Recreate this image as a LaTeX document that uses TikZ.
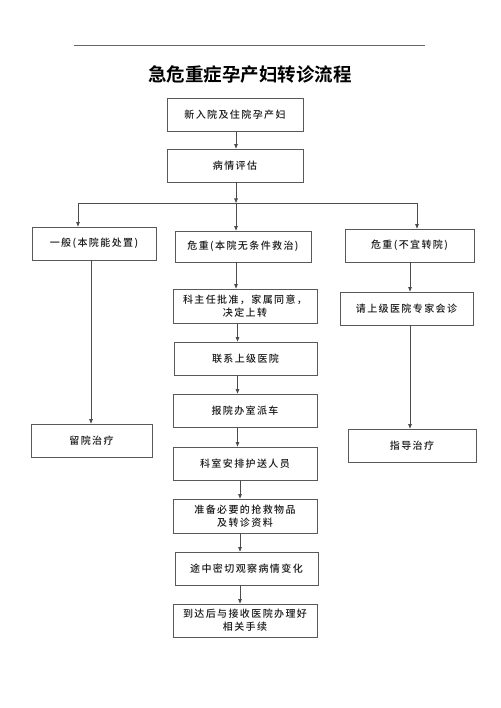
\documentclass[tikz,border=0pt]{standalone}
\usepackage{fontspec}
\newfontfamily\cjk[LetterSpace=14]{Noto Sans CJK SC Medium}
\newfontfamily\cjktitle{Noto Sans CJK SC Bold}
\usetikzlibrary{arrows.meta}
\begin{document}
\begin{tikzpicture}[x=1pt,y=-1pt,
  box/.style={draw=black!65,line width=0.8pt,rectangle,inner sep=0pt,align=center,
    font=\cjk\fontsize{10}{13}\selectfont,text=black!90},
  arr/.style={draw=black!70,line width=0.7pt,-{Triangle[length=4.5pt,width=3.5pt]}},
  ln/.style={draw=black!70,line width=0.7pt}]
\useasboundingbox (0,0) rectangle (500,708);
\draw[black!60,line width=0.8pt] (74,45) -- (425,45);
\node[font=\cjktitle\fontsize{18.5}{20}\selectfont] (title) at (250,75) {急危重症孕产妇转诊流程};
\node[box,minimum width=136pt,minimum height=33pt] (b1) at (235,114.5) {新入院及住院孕产妇};
\node[box,minimum width=136pt,minimum height=33pt] (b2) at (235,165.5) {病情评估};
\node[box,minimum width=124pt,minimum height=33pt] (L1) at (94,243.5) {一般(本院能处置)};
\node[box,minimum width=136pt,minimum height=31pt] (M1) at (243,246.5) {危重(本院无条件救治)};
\node[box,minimum width=129pt,minimum height=33pt] (R1) at (409.5,245.5) {危重(不宜转院)};
\node[box,minimum width=144pt,minimum height=34pt] (M2) at (245,306) {科主任批准，家属同意，\\决定上转};
\node[box,minimum width=143pt,minimum height=33pt] (M3) at (245.5,358.5) {联系上级医院};
\node[box,minimum width=133pt,minimum height=33pt] (R2) at (406.5,308.5) {请上级医院专家会诊};
\node[box,minimum width=121pt,minimum height=33pt] (L2) at (91.5,440.5) {留院治疗};
\node[box,minimum width=128pt,minimum height=33pt] (R3) at (412,445.5) {指导治疗};
\node[box,minimum width=144pt,minimum height=33pt] (M4) at (245,410.5) {报院办室派车};
\node[box,minimum width=144pt,minimum height=33pt] (M5) at (245,463.5) {科室安排护送人员};
\node[box,minimum width=144pt,minimum height=34pt] (M6) at (245,516) {准备必要的抢救物品\\及转诊资料};
\node[box,minimum width=143pt,minimum height=33pt] (M7) at (246.5,568.5) {途中密切观察病情变化};
\node[box,minimum width=144pt,minimum height=33pt] (M8) at (245,620.5) {到达后与接收医院办理好\\相关手续};
\coordinate (c1) at (236,0);
\coordinate (c2) at (237.5,0);
\coordinate (c3) at (240,0);
\coordinate (cl) at (78,0);
\coordinate (cr) at (417,0);
\coordinate (cl2) at (91,0);
\coordinate (cr2) at (410,0);
\coordinate (j) at (236,203);
\draw[arr] (b1.south -| c1) -- (b2.north -| c1);
\draw[arr] (b2.south -| c1) -- (j);
\draw[ln] (j -| cl) -- (j -| cr);
\draw[arr] (j -| cl) -- (L1.north -| cl);
\draw[arr] (j) -- (M1.north -| c1);
\draw[arr] (j -| cr) -- (R1.north -| cr);
\draw[arr] (M1.south -| c1) -- (M2.north -| c1);
\draw[arr] (M2.south -| c2) -- (M3.north -| c2);
\draw[arr] (M3.south -| c2) -- (M4.north -| c2);
\draw[arr] (M4.south -| c2) -- (M5.north -| c2);
\draw[arr] (M5.south -| c3) -- (M6.north -| c3);
\draw[arr] (M6.south -| c3) -- (M7.north -| c3);
\draw[arr] (M7.south -| c3) -- (M8.north -| c3);
\draw[arr] (L1.south -| cl2) -- (L2.north -| cl2);
\draw[arr] (R1.south -| cr2) -- (R2.north -| cr2);
\draw[arr] (R2.south -| cr2) -- (R3.north -| cr2);
\end{tikzpicture}
\end{document}
